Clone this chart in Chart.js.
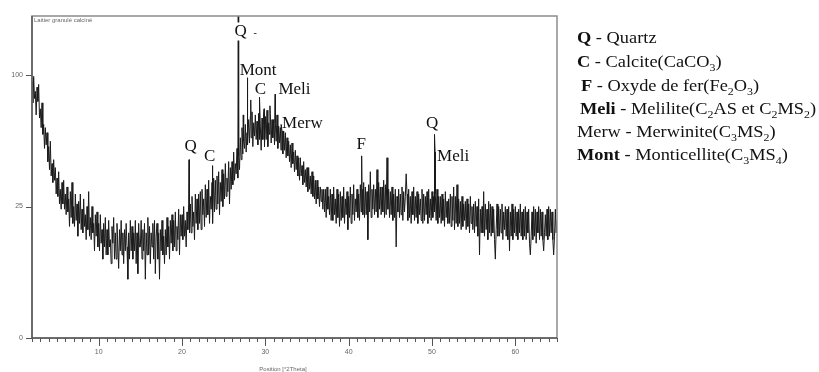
<!DOCTYPE html>
<html><head><meta charset="utf-8">
<script src="https://cdn.jsdelivr.net/npm/chart.js@4.4.1/dist/chart.umd.min.js"></script>
<style>html,body{margin:0;padding:0;background:#fff;}canvas{display:block}</style>
</head><body>
<canvas id="c" width="819" height="372"></canvas>
<script>
// ---- data: 2theta grid start / step and counts ----
const startAngle = 2.0;
const stepAngle = 0.1;
const intensity = [
 95,80,99,83,88,72,91,81,93,70,
 76,64,80,60,66,52,64,54,61,45,
 53,41,56,38,44,35,46,36,42,30,
 37,29,40,26,32,24,35,26,36,24,
 30,22,33,23,28,18,31,21,35,19,
 25,18,30,20,26,15,27,19,30,17,
 24,16,28,18,22,14,25,17,31,15,
 21,14,25,16,19,11,22,15,23,12,
 19,11,22,13,17,9,19,12,21,10,
 17,10,20,12,14,8,18,13,21,9,
 16,9,19,12,7,17,11,20,10,16,
 8,17,11,19,12,5,16,9,20,11,
 18,9,16,11,20,8,16,6,19,12,
 12,20,9,17,11,19,5,16,10,21,
 10,18,8,16,12,19,9,20,6,15,
 19,9,16,5,17,11,20,10,15,8,
 17,10,21,12,18,9,20,13,22,11,
 20,12,23,11,18,14,24,10,22,15,
 22,14,25,15,20,12,23,17,26,16,
 26,16,29,18,23,14,30,19,28,17,
 30,19,31,17,32,22,28,18,34,21,
 32,22,36,19,29,24,35,19,37,23,
 36,24,38,26,40,22,35,27,41,25,
 39,28,44,29,37,31,45,26,42,32,
 45,34,50,36,44,39,52,37,48,41,
 58,46,64,49,56,52,66,50,61,54,
 69,55,71,58,74,53,67,59,72,57,
 68,54,73,57,65,51,70,57,74,53,
 71,57,75,53,67,60,73,55,69,58,
 69,54,67,56,72,52,65,55,64,51,
 62,49,62,51,61,47,58,48,56,45,
 54,42,55,44,50,40,51,41,48,38,
 47,36,47,38,43,34,45,35,41,33,
 42,31,42,32,38,30,40,29,38,28,
 36,26,36,28,33,25,33,27,32,24,
 32,23,32,21,33,24,29,22,32,20,
 30,20,33,22,28,19,32,21,30,18,
 31,20,29,21,33,19,28,22,31,17,
 29,21,33,19,30,22,34,20,28,23,
 32,21,30,20,34,23,32,22,35,21,
 33,22,31,14,34,23,40,21,32,24,
 34,22,32,23,41,21,35,24,33,22,
 33,23,36,21,34,22,47,24,32,21,
 31,22,33,20,30,21,32,12,29,23,
 32,21,30,22,33,20,31,23,29,39,
 30,20,32,21,29,19,31,22,33,20,
 29,21,31,19,30,22,28,20,32,19,
 30,20,29,22,31,19,32,21,28,20,
 31,21,29,23,30,20,32,19,29,21,
 29,19,30,20,28,18,31,21,27,19,
 28,19,30,18,29,20,33,17,29,19,
 34,18,28,19,27,17,29,18,26,20,
 27,17,28,18,26,16,29,19,25,17,
 26,16,27,18,25,15,28,10,24,16,
 25,16,31,15,26,17,24,14,27,16,
 26,15,25,16,24,14,9,17,26,15,
 25,15,24,16,26,14,23,17,25,15,
 24,14,25,11,23,15,26,14,24,16,
 25,15,23,14,24,16,26,15,23,14,
 24,15,25,14,23,16,24,13,10,15,
 23,14,25,15,24,13,23,16,25,14,
 24,15,23,14,11,16,22,15,24,14,
 25,15,24,16,23,14,10,15,24,16,
 20
];
const peakPos = [20.84, 23.64, 26.75, 27.35, 27.83, 28.25, 29.3, 29.85, 30.55, 31.19, 31.9, 41.56, 50.3, 50.37];
const peakVal = [46, 43, 165, 72, 98, 82, 84, 76, 78, 86, 66, 48, 60, 50];
const xTickValues = [10, 20, 30, 40, 50, 60];
const yTickValues = [0, 25, 100];
const annText = ['Q', 'Mont', 'C', 'Meli', 'Merw', 'Q', 'C', 'F', 'Q', 'Meli'];
const annAngle = [27.03, 29.13, 29.42, 33.5, 34.45, 21.04, 23.32, 41.52, 50.02, 52.54];
const annCount = [136.8, 105, 90.7, 90.3, 67.7, 54, 48.6, 55.2, 67.7, 48.6];
const legendLines = [
 [['Q','b'],[' - Quartz','n']],
 [['C','b'],[' - Calcite(CaCO','n'],['3','s'],[')','n']],
 [['F','b'],[' - Oxyde de fer(Fe','n'],['2','s'],['O','n'],['3','s'],[')','n']],
 [['Meli','b'],[' - Melilite(C','n'],['2','s'],['AS et C','n'],['2','s'],['MS','n'],['2','s'],[')','n']],
 [['Merw - Merwinite(C','n'],['3','s'],['MS','n'],['2','s'],[')','n']],
 [['Mont','b'],[' - Monticellite(C','n'],['3','s'],['MS','n'],['4','s'],[')','n']]
];
const sampleName = 'Laitier granulé calciné';
const xTitle = 'Position [°2Theta]';

// ---- square-root intensity scale ----
class SqrtScale extends Chart.LinearScale {
  getPixelForValue(v) {
    if (v === null || v === undefined || isNaN(v)) return NaN;
    const a = Math.sqrt(Math.max(this.min, 0)), b = Math.sqrt(this.max);
    return this.getPixelForDecimal((Math.sqrt(Math.max(v, 0)) - a) / (b - a));
  }
  getValueForPixel(p) {
    const a = Math.sqrt(Math.max(this.min, 0)), b = Math.sqrt(this.max);
    const s = a + this.getDecimalForPixel(p) * (b - a);
    return s * s;
  }
}
SqrtScale.id = 'sqrt';
SqrtScale.defaults = Chart.LinearScale.defaults;
Chart.register(SqrtScale);

const pts = intensity.map((v, i) => ({x: +(startAngle + i * stepAngle).toFixed(2), y: v}));
peakPos.forEach((p, i) => pts.push({x: p, y: peakVal[i]}));
pts.sort((a, b) => a.x - b.x);

const serif = '"Liberation Serif", "Times New Roman", serif';
const fonts = {b: 'bold 17px ' + serif, n: '17px ' + serif, s: '11px ' + serif};

const deco = {
  id: 'deco',
  afterDraw(chart) {
    const ctx = chart.ctx, ca = chart.chartArea;
    const xs = chart.scales.x, ys = chart.scales.y;
    ctx.save();
    // frame
    ctx.strokeStyle = '#8c8c8c'; ctx.lineWidth = 1.5;
    ctx.strokeRect(ca.left, ca.top, ca.right - ca.left, ca.bottom - ca.top);
    ctx.strokeStyle = '#5a5a5a';
    ctx.beginPath(); ctx.moveTo(ca.left, ca.top); ctx.lineTo(ca.left, ca.bottom); ctx.lineTo(ca.right, ca.bottom); ctx.stroke();
    // x ticks
    ctx.lineWidth = 1; ctx.strokeStyle = '#555';
    for (let t = Math.ceil(xs.min); t <= xs.max; t++) {
      const px = Math.round(xs.getPixelForValue(t)) + 0.5;
      const len = (t % 10 === 0) ? 8 : 4;
      ctx.beginPath(); ctx.moveTo(px, ca.bottom); ctx.lineTo(px, ca.bottom + len); ctx.stroke();
    }
    // y ticks
    yTickValues.forEach(v => {
      const py = Math.round(ys.getPixelForValue(v)) + 0.5;
      ctx.beginPath(); ctx.moveTo(ca.left - 6, py); ctx.lineTo(ca.left, py); ctx.stroke();
    });
    // small texts
    ctx.fillStyle = '#666'; ctx.font = '6px "Liberation Sans", Arial, sans-serif';
    ctx.textBaseline = 'middle'; ctx.textAlign = 'left';
    ctx.fillText(sampleName, ca.left + 2, ca.top + 4);
    ctx.textAlign = 'center';
    ctx.fillText(xTitle, 283, 369);
    // peak labels
    ctx.fillStyle = '#111'; ctx.font = fonts.n; ctx.textBaseline = 'alphabetic';
    annText.forEach((t, i) => {
      const px = xs.getPixelForValue(annAngle[i]);
      const py = ys.getPixelForValue(annCount[i]) + 6;
      if (i === 0) {
        ctx.fillStyle = '#fff'; ctx.fillRect(px - 7, py - 14, 14, 18); ctx.fillStyle = '#111';
      }
      ctx.fillText(t, px, py);
    });
    ctx.font = '10px ' + serif; ctx.textAlign = 'left';
    ctx.fillText('-', xs.getPixelForValue(27.03) + 13, ys.getPixelForValue(136.8) + 6);
    // legend
    const lx = [577, 577, 581, 580, 577, 577];
    const ly = [42.5, 66.5, 90.5, 114, 137, 160];
    legendLines.forEach((parts, i) => {
      ctx.save();
      ctx.translate(lx[i], ly[i]);
      ctx.scale(1.08, 1);
      let x = 0;
      parts.forEach(([txt, st]) => {
        ctx.font = fonts[st];
        ctx.fillText(txt, x, st === 's' ? 4 : 0);
        x += ctx.measureText(txt).width;
      });
      ctx.restore();
    });
    ctx.restore();
  }
};

new Chart(document.getElementById('c'), {
  type: 'line',
  data: {datasets: [{data: pts, borderColor: '#1a1a1a', borderWidth: 1, pointRadius: 0, tension: 0, fill: false}]},
  options: {
    responsive: false, animation: false, devicePixelRatio: 1,
    layout: {padding: {left: 0, right: 262, top: 16, bottom: 0}},
    plugins: {legend: {display: false}, tooltip: {enabled: false}},
    scales: {
      x: {
        type: 'linear', min: 2, max: 65,
        afterBuildTicks: s => { s.ticks = xTickValues.map(v => ({value: v})); },
        afterFit: s => { s.height = 34; },
        grid: {display: false, drawTicks: false}, border: {display: false},
        ticks: {padding: 10, color: '#666', font: {family: '"Liberation Sans", Arial', size: 7}, maxRotation: 0, autoSkip: false}
      },
      y: {
        type: 'sqrt', min: 0, max: 150,
        afterBuildTicks: s => { s.ticks = yTickValues.map(v => ({value: v})); },
        afterFit: s => { s.width = 32; },
        grid: {display: false, drawTicks: false}, border: {display: false},
        ticks: {padding: 9, color: '#666', font: {family: '"Liberation Sans", Arial', size: 7}, autoSkip: false}
      }
    }
  },
  plugins: [deco]
});
</script>
</body></html>
